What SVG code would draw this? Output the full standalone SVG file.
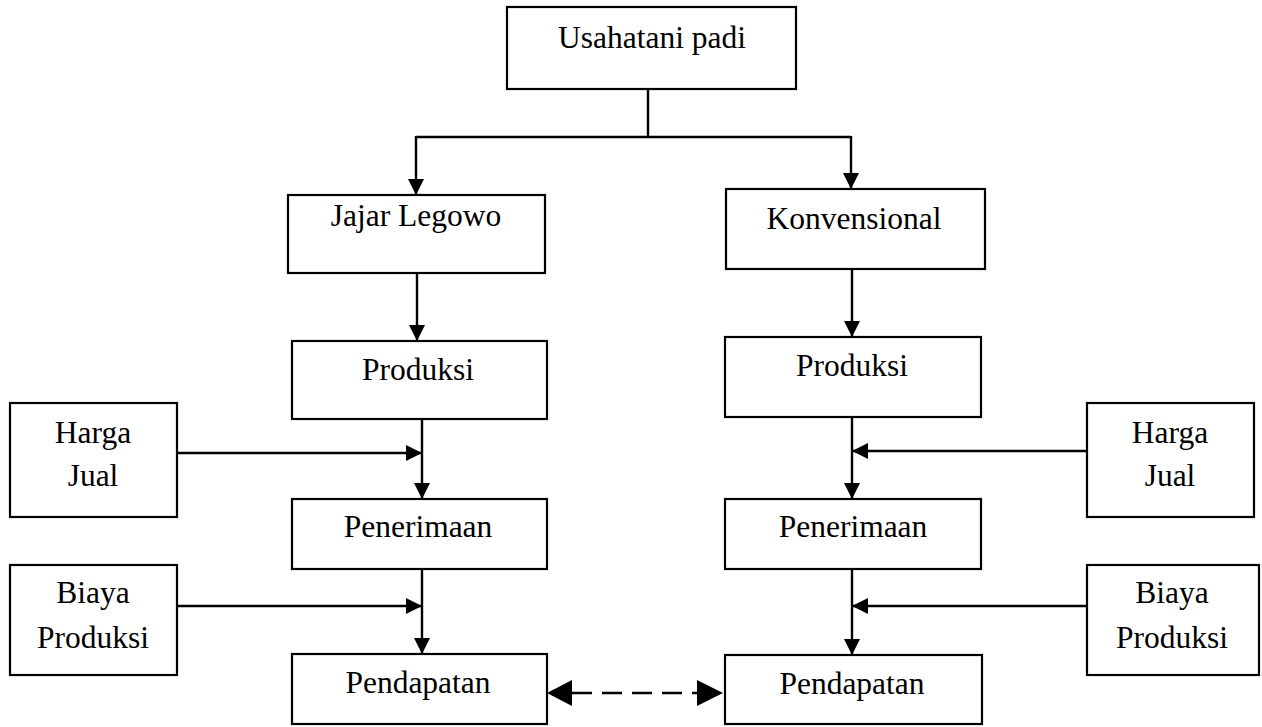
<svg xmlns="http://www.w3.org/2000/svg" width="1262" height="727" viewBox="0 0 1262 727">
<style>
.box{fill:#fff;stroke:#000;stroke-width:2.2}
.t{font-family:"Liberation Serif","Times New Roman",serif;font-size:31.5px;fill:#000;text-anchor:middle}
.ln{stroke:#000;stroke-width:2.4;fill:none}
.arr{marker-end:url(#ah)}
.dash{stroke:#000;stroke-width:2.5;fill:none;stroke-dasharray:20 10}
</style>
<defs>
<marker id="ah" markerUnits="userSpaceOnUse" markerWidth="18" markerHeight="18" viewBox="0 0 18 18" refX="16" refY="9" orient="auto">
<path d="M0,1 L16,9 L0,17 Z" fill="#000"/>
</marker>
</defs>
<g id="connectors">
<path class="ln" d="M648,89 V137"/>
<path class="ln" d="M416,137 H851"/>
<path class="ln arr" d="M416,136 V195"/>
<path class="ln arr" d="M851,136 V189"/>
<path class="ln arr" d="M417,273 V341"/>
<path class="ln arr" d="M422,419 V499"/>
<path class="ln arr" d="M177,453 H422"/>
<path class="ln arr" d="M422,569 V654"/>
<path class="ln arr" d="M177,606 H422"/>
<path class="ln arr" d="M852,269 V337"/>
<path class="ln arr" d="M852,417 V499"/>
<path class="ln arr" d="M1087,451 H852"/>
<path class="ln arr" d="M852,569 V655"/>
<path class="ln arr" d="M1087,606 H852"/>
<path class="dash" d="M572,693 H697"/>
<path fill="#000" d="M547,693 L572,680 L572,706 Z"/>
<path fill="#000" d="M723,693 L697,680 L697,706 Z"/>
</g>
<g id="usahatani"><rect class="box" x="507" y="7" width="289" height="82"/><text class="t" x="652" y="48">Usahatani padi</text></g>
<g id="jajar"><rect class="box" x="288" y="195" width="257" height="78"/><text class="t" x="416" y="226">Jajar Legowo</text></g>
<g id="konvensional"><rect class="box" x="726" y="189" width="259" height="80"/><text class="t" x="854" y="229">Konvensional</text></g>
<g id="produksi-l"><rect class="box" x="292" y="341" width="255" height="78"/><text class="t" x="418" y="380">Produksi</text></g>
<g id="produksi-r"><rect class="box" x="725" y="337" width="256" height="80"/><text class="t" x="852" y="376">Produksi</text></g>
<g id="harga-l"><rect class="box" x="10" y="403" width="167" height="114"/><text class="t" x="93" y="443">Harga</text><text class="t" x="93" y="486">Jual</text></g>
<g id="harga-r"><rect class="box" x="1087" y="403" width="167" height="114"/><text class="t" x="1170" y="443">Harga</text><text class="t" x="1170" y="486">Jual</text></g>
<g id="penerimaan-l"><rect class="box" x="292" y="499" width="255" height="70"/><text class="t" x="418" y="537">Penerimaan</text></g>
<g id="penerimaan-r"><rect class="box" x="725" y="499" width="256" height="70"/><text class="t" x="853" y="537">Penerimaan</text></g>
<g id="biaya-l"><rect class="box" x="10" y="565" width="167" height="110"/><text class="t" x="93" y="603">Biaya</text><text class="t" x="93" y="648">Produksi</text></g>
<g id="biaya-r"><rect class="box" x="1087" y="565" width="172" height="110"/><text class="t" x="1172" y="603">Biaya</text><text class="t" x="1172" y="648">Produksi</text></g>
<g id="pendapatan-l"><rect class="box" x="292" y="654" width="255" height="70"/><text class="t" x="418" y="693">Pendapatan</text></g>
<g id="pendapatan-r"><rect class="box" x="725" y="655" width="257" height="69"/><text class="t" x="852" y="694">Pendapatan</text></g>
</svg>
